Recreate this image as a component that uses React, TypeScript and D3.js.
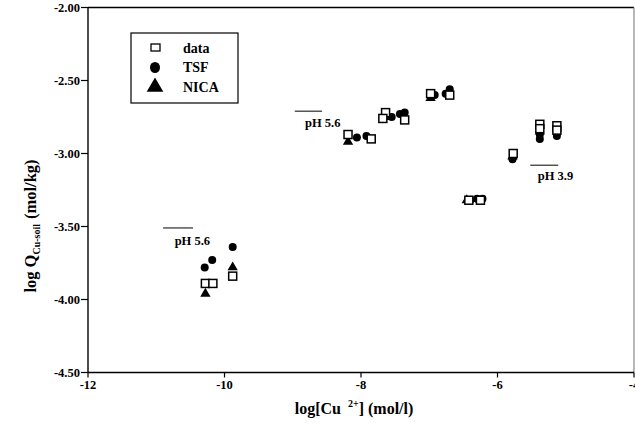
import React from "react";
import * as d3 from "d3";

// Measured copper sorption (open squares)
const dataX = [-10.28, -10.17, -9.88, -8.19, -7.85, -7.64, -7.68, -7.36, -6.98, -6.7, -6.42, -6.25, -5.77, -5.38, -5.38, -5.13, -5.13];
const dataY = [-3.89, -3.89, -3.84, -2.87, -2.9, -2.72, -2.76, -2.77, -2.59, -2.6, -3.32, -3.32, -3.0, -2.8, -2.83, -2.81, -2.84];

// TSF model (filled circles)
const tsfX = [-10.29, -10.18, -9.88, -8.06, -7.92, -7.55, -7.43, -7.36, -6.92, -6.76, -6.7, -6.4, -6.3, -6.22, -5.78, -5.38, -5.38, -5.13, -5.13];
const tsfY = [-3.78, -3.73, -3.64, -2.89, -2.88, -2.75, -2.73, -2.72, -2.6, -2.59, -2.56, -3.32, -3.31, -3.31, -3.04, -2.87, -2.9, -2.86, -2.88];

// NICA model (filled triangles)
const nicaX = [-10.28, -9.88, -8.19, -7.66, -6.98, -6.45, -5.78, -5.38, -5.13];
const nicaY = [-3.96, -3.78, -2.92, -2.75, -2.62, -3.32, -3.02, -2.85, -2.83];

const xTicks = [-12, -10, -8, -6, -4];
const yTicks = [-2.0, -2.5, -3.0, -3.5, -4.0, -4.5];

// pH annotations: [x1, x2, y of bar, label x, label y, text]
const phLabels: [number, number, number, number, number, string][] = [
  [-10.9, -10.46, -3.51, -10.73, -3.63, "pH 5.6"],
  [-8.97, -8.57, -2.71, -8.82, -2.82, "pH 5.6"],
  [-5.52, -5.11, -3.08, -5.41, -3.18, "pH 3.9"],
];

const legendItems = ["data", "TSF", "NICA"];

const W = 635;
const H = 428;
const left = 88;
const right = 634;
const top = 7.5;
const bottom = 372.5;
const font = "'Liberation Serif', 'Times New Roman', serif";

export default function App() {
  const x = d3.scaleLinear().domain([-12, -4]).range([left, right]);
  const y = d3.scaleLinear().domain([-4.5, -2]).range([bottom, top]);
  const tri = d3.symbol().type(d3.symbolTriangle).size(46)();
  const triBig = d3.symbol().type(d3.symbolTriangle).size(120)();

  return (
    <div style={{ position: "fixed", left: 0, top: 0 }}>
      <svg width={W} height={H} style={{ display: "block", background: "#fff" }}>
        {/* frame */}
        <line x1={left} x2={right} y1={top} y2={top} stroke="#000" strokeWidth={1.5} />
        <line x1={right} x2={right} y1={top} y2={bottom} stroke="#888" strokeWidth={1.2} />
        <line x1={left} x2={right} y1={bottom} y2={bottom} stroke="#000" strokeWidth={1.4} />
        <line x1={left} x2={left} y1={top} y2={bottom} stroke="#000" strokeWidth={1.4} />

        {/* y axis */}
        {yTicks.map((t) => (
          <g key={"y" + t}>
            <line x1={left - 7} x2={left} y1={y(t)} y2={y(t)} stroke="#000" strokeWidth={1.2} />
            <text x={left - 8} y={y(t)} dy="0.35em" textAnchor="end" fontFamily={font} fontWeight="bold" fontSize={12.5}>
              {d3.format(".2f")(t).replace("−", "-")}
            </text>
          </g>
        ))}

        {/* x axis */}
        {xTicks.map((t) => (
          <g key={"x" + t}>
            <line x1={x(t)} x2={x(t)} y1={bottom} y2={bottom + 5} stroke="#000" strokeWidth={1.2} />
            <text x={x(t)} y={bottom + 16} textAnchor="middle" fontFamily={font} fontWeight="bold" fontSize={12.5}>
              {String(t)}
            </text>
          </g>
        ))}

        {/* axis titles */}
        <text x={354} y={414} textAnchor="middle" fontFamily={font} fontWeight="bold" fontSize={16}>
          log[Cu
          <tspan dx={7} dy={-7} fontSize={10}>2+</tspan>
          <tspan dy={7}>] (mol/l)</tspan>
        </text>
        <text
          transform={`translate(36, ${226}) rotate(-90)`}
          textAnchor="middle"
          fontFamily={font}
          fontWeight="bold"
          fontSize={16.5}
        >
          log Q
          <tspan dy={4} fontSize={10}>Cu-soil</tspan>
          <tspan dy={-4} dx={5}>(mol/kg)</tspan>
        </text>

        {/* pH annotations */}
        {phLabels.map(([x1, x2, yb, lx, ly, txt], i) => (
          <g key={"ph" + i}>
            <line x1={x(x1)} x2={x(x2)} y1={y(yb)} y2={y(yb)} stroke="#000" strokeWidth={1} />
            <text x={x(lx)} y={y(ly)} fontFamily={font} fontWeight="bold" fontSize={12.5}>
              {txt}
            </text>
          </g>
        ))}

        {/* NICA triangles */}
        {nicaX.map((v, i) => (
          <path key={"n" + i} d={tri!} transform={`translate(${x(v)},${y(nicaY[i])})`} fill="#000" />
        ))}
        {/* TSF circles */}
        {tsfX.map((v, i) => (
          <circle key={"t" + i} cx={x(v)} cy={y(tsfY[i])} r={4} fill="#000" />
        ))}
        {/* data squares */}
        {dataX.map((v, i) => (
          <rect
            key={"d" + i}
            x={x(v) - 4}
            y={y(dataY[i]) - 4}
            width={8}
            height={8}
            fill="#fff"
            stroke="#000"
            strokeWidth={1.5}
          />
        ))}

        {/* legend */}
        <g>
          <rect x={131} y={33} width={107} height={70} fill="#fff" stroke="#000" strokeWidth={1.2} />
          {legendItems.map((name, i) => {
            const cy = 48 + i * 19.5;
            return (
              <g key={name}>
                {i === 0 && <rect x={151} y={cy - 4} width={9} height={7} fill="#fff" stroke="#000" strokeWidth={1.3} />}
                {i === 1 && <ellipse cx={155} cy={cy} rx={5} ry={5.5} fill="#000" />}
                {i === 2 && <path d={triBig!} transform={`translate(155,${cy})`} fill="#000" />}
                <text x={183} y={cy} dy="0.35em" fontFamily={font} fontWeight="bold" fontSize={14}>
                  {name}
                </text>
              </g>
            );
          })}
        </g>
      </svg>
    </div>
  );
}
